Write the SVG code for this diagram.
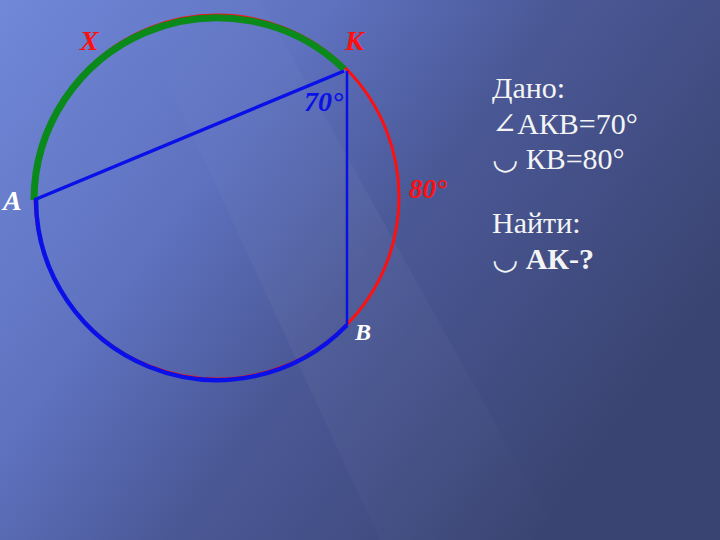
<svg xmlns="http://www.w3.org/2000/svg" width="720" height="540" viewBox="0 0 720 540">
<defs>
<linearGradient id="bg" x1="0" y1="0" x2="1" y2="0.55">
<stop offset="0" stop-color="#7088d8"/>
<stop offset="0.35" stop-color="#5f72c0"/>
<stop offset="0.6" stop-color="#4a5896"/>
<stop offset="1" stop-color="#3a4472"/>
</linearGradient>
<linearGradient id="streak" x1="0" y1="0" x2="1" y2="1">
<stop offset="0" stop-color="#ffffff" stop-opacity="0"/>
<stop offset="0.5" stop-color="#ffffff" stop-opacity="0.04"/>
<stop offset="1" stop-color="#ffffff" stop-opacity="0"/>
</linearGradient>
<style>
.lbl{font-family:"Liberation Serif",serif;font-style:italic;font-weight:bold;}
.txt{font-family:"Liberation Serif","DejaVu Serif",serif;fill:#f4f4f4;font-size:30px;}
</style>
</defs>
<rect width="720" height="540" fill="url(#bg)"/>
<polygon points="130,0 260,0 560,540 380,540" fill="url(#streak)"/>
<g id="circle">
<circle cx="217" cy="197" r="182" fill="none" stroke="#ff1010" stroke-width="3"/>
</g>
<g id="connectors">
<path d="M34,200 A183,183 0 0 1 344,69" fill="none" stroke="#0a8a1a" stroke-width="7"/>
<path d="M36,200 A181,181 0 0 0 347,325" fill="none" stroke="#0a10e8" stroke-width="4.5"/>
<line x1="34" y1="200" x2="344" y2="71" stroke="#0a10e8" stroke-width="3.5"/>
<line x1="347" y1="71" x2="347" y2="325" stroke="#0a10e8" stroke-width="2.5"/>
</g>
<g id="labels">
<text class="lbl" x="80" y="50" font-size="28" fill="#ff1010">Х</text>
<text class="lbl" x="345" y="50" font-size="28" fill="#ff1010">К</text>
<text class="lbl" x="304" y="111" font-size="28" fill="#0a10e8">70°</text>
<text class="lbl" x="409" y="198" font-size="27" fill="#ff1010">80°</text>
<text class="lbl" x="3" y="210" font-size="28" fill="#ffffff">А</text>
<text class="lbl" x="355" y="340" font-size="24" fill="#ffffff">В</text>
</g>
<g id="given">
<text class="txt" x="492" y="98">Дано:</text>
<text class="txt" x="492" y="134">∠АКВ=70°</text>
<text class="txt" x="492" y="169">◡ КВ=80°</text>
<text class="txt" x="492" y="233">Найти:</text>
<text class="txt" x="492" y="269" font-weight="bold">◡ АК-?</text>
</g>
</svg>
